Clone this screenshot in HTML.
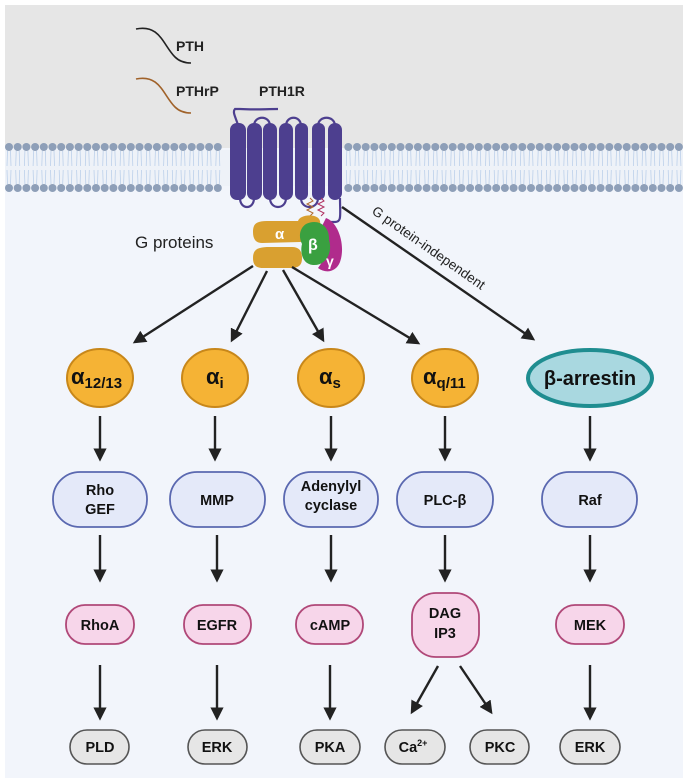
<!DOCTYPE html>
<html><head><meta charset="utf-8"><style>
html,body{margin:0;padding:0;background:#fff}
svg{display:block;font-family:"Liberation Sans",sans-serif}
</style></head><body>
<svg width="688" height="783" viewBox="0 0 688 783" xmlns="http://www.w3.org/2000/svg">
<defs>
<marker id="ah" viewBox="0 0 10 10" refX="8" refY="5" markerWidth="5.5" markerHeight="5.5" orient="auto" markerUnits="strokeWidth">
<path d="M0,0 L10,5 L0,10 z" fill="#222"/></marker>
</defs>
<rect x="5" y="5" width="678" height="773" fill="#f2f5fb"/>
<rect x="5" y="5" width="678" height="143" fill="#e6e6e6"/>
<rect x="5" y="150" width="678" height="36" fill="#eef2f8"/>

<!-- PTH ligands -->
<path d="M136,29 C160,24 163,45 175,57 C180,62 186,63 191,63" stroke="#222" stroke-width="1.6" fill="none"/>
<text x="176" y="51" font-size="14" font-weight="bold" fill="#222">PTH</text>
<path d="M136,79 C160,74 163,95 175,107 C180,112 186,113 191,113" stroke="#a0622a" stroke-width="1.6" fill="none"/>
<text x="176" y="96" font-size="14" font-weight="bold" fill="#222">PTHrP</text>
<text x="259" y="96" font-size="14" font-weight="bold" fill="#222">PTH1R</text>

<!-- receptor -->
<g fill="#4d3f8f" stroke="#4d3f8f">
<path d="M238,125 C236,118 232,112 235,109 L240,109 C255,110 265,109 278,109" fill="none" stroke-width="2.2"/>
<rect x="230" y="123" width="16" height="77" rx="7" stroke="none"/>
<rect x="247" y="123" width="15" height="77" rx="7" stroke="none"/>
<rect x="263" y="123" width="14" height="77" rx="7" stroke="none"/>
<rect x="279" y="123" width="14" height="77" rx="7" stroke="none"/>
<rect x="295" y="123" width="13" height="77" rx="6" stroke="none"/>
<rect x="312" y="123" width="13" height="77" rx="6" stroke="none"/>
<rect x="328" y="123" width="14" height="77" rx="7" stroke="none"/>
<g fill="none" stroke-width="2.2">
<path d="M240,198 C240,210 254,210 254,198"/>
<path d="M270,198 C270,210 286,210 286,198"/>
<path d="M301,198 C301,210 318,210 318,198"/>
<path d="M254,126 C254,115 270,115 270,126"/>
<path d="M286,126 C286,115 301,115 301,126"/>
<path d="M318,126 C318,115 335,115 335,126"/>
<path d="M340,198 C340,215 342,222 335,222 L330,222"/>
</g>
</g>
<path d="M310,198 l3,3 -6,3 6,3 -6,3 6,3 -3,3" stroke="#b06a30" stroke-width="1" fill="none"/>
<path d="M321,198 l3,3 -6,3 6,3 -6,3 6,3 -3,3" stroke="#b03060" stroke-width="1" fill="none"/>

<!-- G protein -->
<path d="M253,232 C253,222 258,221 270,221 L298,221 C300,214 318,213 320,221 C322,232 310,241 300,242 L262,243 C255,243 253,238 253,232 z" fill="#d9a030"/>
<path d="M253,258 C253,249 258,247 270,247 L292,247 C300,247 302,252 302,258 C302,266 298,268 290,268 L263,268 C256,268 253,265 253,258 z" fill="#d9a030"/>
<text x="275" y="239" font-size="15" font-weight="bold" fill="#fff">α</text>
<path d="M326,218 C338,222 346,245 340,262 C336,272 326,274 318,268 C326,258 330,240 322,226 z" fill="#b02b8c"/>
<path d="M306,224 C318,218 330,226 329,240 C333,252 326,266 313,265 C302,264 300,252 302,244 C298,236 300,228 306,224 z" fill="#3aa040"/>
<text x="308" y="250" font-size="16" font-weight="bold" fill="#fff">β</text>
<text x="326" y="266" font-size="14" font-weight="bold" fill="#fff">γ</text>
<text x="135" y="248" font-size="17" fill="#222">G proteins</text>

<!-- arrows from G protein -->
<g stroke="#222" stroke-width="2.4" fill="none" marker-end="url(#ah)">
<line x1="253" y1="266" x2="135" y2="342"/>
<line x1="267" y1="271" x2="232" y2="340"/>
<line x1="283" y1="270" x2="323" y2="340"/>
<line x1="292" y1="267" x2="418" y2="343"/>
<line x1="342" y1="207" x2="533" y2="339"/>
</g>
<text transform="translate(371,213) rotate(35)" font-size="13.5" fill="#222">G protein-independent</text>

<!-- alpha circles -->
<g fill="#f5b335" stroke="#c8871a" stroke-width="2">
<ellipse cx="100" cy="378" rx="33" ry="29"/>
<ellipse cx="215" cy="378" rx="33" ry="29"/>
<ellipse cx="331" cy="378" rx="33" ry="29"/>
<ellipse cx="445" cy="378" rx="33" ry="29"/>
</g>
<ellipse cx="590" cy="378" rx="62" ry="28" fill="#a9d8e0" stroke="#1f8d90" stroke-width="4"/>
<g font-weight="bold" fill="#111">
<text x="71" y="384" font-size="22">α<tspan font-size="15" dy="4">12/13</tspan></text>
<text x="206" y="384" font-size="22">α<tspan font-size="15" dy="4">i</tspan></text>
<text x="319" y="384" font-size="22">α<tspan font-size="15" dy="4">s</tspan></text>
<text x="423" y="384" font-size="22">α<tspan font-size="15" dy="4">q/11</tspan></text>
<text x="590" y="385" font-size="20" text-anchor="middle">β-arrestin</text>
</g>

<!-- vertical arrows -->
<g stroke="#222" stroke-width="2.4" marker-end="url(#ah)">
<line x1="100" y1="416" x2="100" y2="459"/>
<line x1="215" y1="416" x2="215" y2="459"/>
<line x1="331" y1="416" x2="331" y2="459"/>
<line x1="445" y1="416" x2="445" y2="459"/>
<line x1="590" y1="416" x2="590" y2="459"/>
<line x1="100" y1="535" x2="100" y2="580"/>
<line x1="217" y1="535" x2="217" y2="580"/>
<line x1="331" y1="535" x2="331" y2="580"/>
<line x1="445" y1="535" x2="445" y2="580"/>
<line x1="590" y1="535" x2="590" y2="580"/>
<line x1="100" y1="665" x2="100" y2="718"/>
<line x1="217" y1="665" x2="217" y2="718"/>
<line x1="330" y1="665" x2="330" y2="718"/>
<line x1="590" y1="665" x2="590" y2="718"/>
<line x1="438" y1="666" x2="412" y2="712"/>
<line x1="460" y1="666" x2="491" y2="712"/>
</g>

<!-- blue boxes -->
<g fill="#e4e9f9" stroke="#5a68b0" stroke-width="1.8">
<rect x="53" y="472" width="94" height="55" rx="27"/>
<rect x="170" y="472" width="95" height="55" rx="27"/>
<rect x="284" y="472" width="94" height="55" rx="27"/>
<rect x="397" y="472" width="96" height="55" rx="27"/>
<rect x="542" y="472" width="95" height="55" rx="27"/>
</g>
<g font-size="14.5" font-weight="bold" fill="#111" text-anchor="middle">
<text x="100" y="495">Rho</text><text x="100" y="514">GEF</text>
<text x="217" y="505">MMP</text>
<text x="331" y="491">Adenylyl</text><text x="331" y="510">cyclase</text>
<text x="445" y="505">PLC-β</text>
<text x="590" y="505">Raf</text>
</g>

<!-- pink boxes -->
<g fill="#f7d6ea" stroke="#b04878" stroke-width="1.8">
<rect x="66" y="605" width="68" height="39" rx="19"/>
<rect x="184" y="605" width="67" height="39" rx="19"/>
<rect x="296" y="605" width="67" height="39" rx="19"/>
<rect x="412" y="593" width="67" height="64" rx="24"/>
<rect x="556" y="605" width="68" height="39" rx="19"/>
</g>
<g font-size="14.5" font-weight="bold" fill="#111" text-anchor="middle">
<text x="100" y="630">RhoA</text>
<text x="217" y="630">EGFR</text>
<text x="330" y="630">cAMP</text>
<text x="445" y="618">DAG</text><text x="445" y="638">IP3</text>
<text x="590" y="630">MEK</text>
</g>

<!-- gray boxes -->
<g fill="#e6e6e6" stroke="#555" stroke-width="1.6">
<rect x="70" y="730" width="59" height="34" rx="17"/>
<rect x="188" y="730" width="59" height="34" rx="17"/>
<rect x="300" y="730" width="60" height="34" rx="17"/>
<rect x="385" y="730" width="60" height="34" rx="17"/>
<rect x="470" y="730" width="59" height="34" rx="17"/>
<rect x="560" y="730" width="60" height="34" rx="17"/>
</g>
<g font-size="14.5" font-weight="bold" fill="#111" text-anchor="middle">
<text x="100" y="752">PLD</text>
<text x="217" y="752">ERK</text>
<text x="330" y="752">PKA</text>
<text x="413" y="752">Ca<tspan font-size="9" dy="-6">2+</tspan></text>
<text x="500" y="752">PKC</text>
<text x="590" y="752">ERK</text>
</g>
</svg>
<script>
(function(){
var ns="http://www.w3.org/2000/svg",svg=document.querySelector('svg');
var g=document.createElementNS(ns,'g');
var s='';
for(var x=9;x<683;x+=8.7){
 if(x>226&&x<345)continue;
 s+='<path d="M'+(x-1.5)+',151 L'+(x-2)+',166 M'+(x+1.5)+',151 L'+(x+2)+',166 M'+(x-2)+',170 L'+(x-1.5)+',184 M'+(x+2)+',170 L'+(x+1.5)+',184" stroke="#bcd0ea" stroke-width="0.8" fill="none"/>';
 s+='<circle cx="'+x+'" cy="147" r="4" fill="#8e9fb8"/><circle cx="'+x+'" cy="188" r="4" fill="#8e9fb8"/>';
}
g.innerHTML=s;
var recFirst=svg.querySelector('g[fill="#4d3f8f"]');
svg.insertBefore(g,recFirst);
})();
</script>
</body></html>
